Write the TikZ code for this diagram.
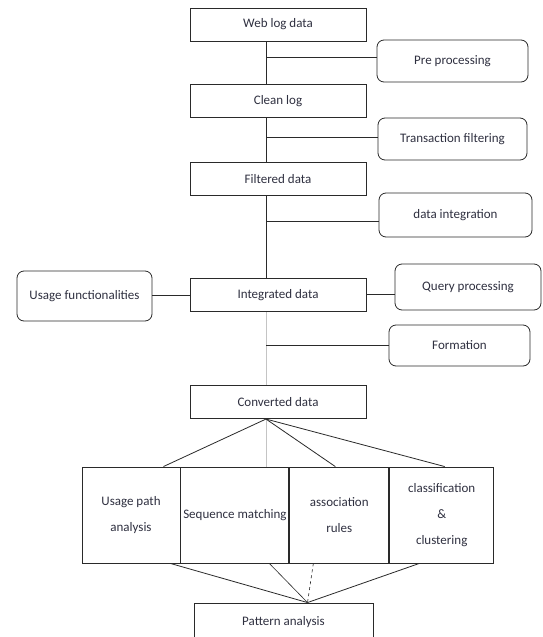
\documentclass[tikz,border=0pt]{standalone}
\usepackage{fontspec}
\setmainfont{Carlito}
\usetikzlibrary{positioning}
\definecolor{cLine}{HTML}{2A2A2A}
\definecolor{cText}{HTML}{2F3040}
\definecolor{cFaint}{HTML}{C4C4C4}

\begin{document}
\begin{tikzpicture}[x=1pt,y=-1pt,
    every node/.style={font=\fontsize{13}{26}\selectfont,text=cText,align=center,inner sep=0pt},
    databox/.style={draw=cLine,fill=white,line width=0.9pt,minimum width=176pt,minimum height=33pt},
    stepbox/.style={draw=cLine,fill=white,line width=0.8pt,rounded corners=7pt},
    cellbox/.style={draw=cLine,fill=white,line width=0.9pt,minimum height=96pt},
    link/.style={draw=cLine,line width=0.9pt}]
  \useasboundingbox[fill=white] (0,0) rectangle (543,637);
  \coordinate (spine) at (266,0);

  % main column
  \node[databox] (web) at (278,24.5) {Web log data};
  \node[databox,below=43pt of web] (clean) {Clean log};
  \node[databox,below=44pt of clean] (filt) {Filtered data};
  \node[databox,below=82pt of filt] (intd) {Integrated data};
  \node[databox,below=73pt of intd] (conv) {Converted data};

  % steps at the side
  \node[stepbox,minimum width=151pt,minimum height=42pt] (pre) at (452.5,61) {Pre processing};
  \node[stepbox,minimum width=149pt,minimum height=42pt] (trans) at (452.5,139) {Transaction filtering};
  \node[stepbox,minimum width=153pt,minimum height=44pt] (integ) at (455.5,215) {data integration};
  \node[stepbox,minimum width=146pt,minimum height=46pt] (query) at (468,287) {Query processing};
  \node[stepbox,minimum width=141pt,minimum height=41pt] (form) at (459.5,345.5) {Formation};
  \node[stepbox,minimum width=135pt,minimum height=50pt] (usage) at (84.5,296) {Usage functionalities};

  % mining methods
  \node[cellbox,minimum width=98pt] (c1) at (131,515) {Usage path\\analysis};
  \node[cellbox,minimum width=108pt,right=0pt of c1] (c2) {Sequence matching};
  \node[cellbox,minimum width=99pt,right=0pt of c2] (c3) {association\\rules};
  \node[cellbox,minimum width=104pt,right=0pt of c3] (c4) {classification\\\&\\clustering};
  \node[databox,minimum width=179pt,minimum height=38pt] (pat) at (283.5,622) {Pattern analysis};
  \coordinate (meet) at ([xshift=24pt]pat.north);

  % connectors
  \draw[cFaint,line width=0.7pt] (intd.south -| spine) -- (conv.north -| spine);
  \draw[cFaint,line width=0.7pt] (conv.south -| spine) -- (c2.north -| spine);
  \draw[link] (web.south -| spine) -- (clean.north -| spine);
  \draw[link] (clean.south -| spine) -- (filt.north -| spine);
  \draw[link] (filt.south -| spine) -- (intd.north -| spine);
  \draw[link] ([yshift=4pt]pre.west) -- ([yshift=4pt]pre.west -| spine);
  \draw[link] ([yshift=2pt]trans.west) -- ([yshift=2pt]trans.west -| spine);
  \draw[link] ([yshift=-6pt]integ.west) -- ([yshift=-6pt]integ.west -| spine);
  \draw[link] (form.west) -- (form.west -| spine);
  \draw[link] (intd.west) -- (intd.west -| usage.east);
  \draw[link,line width=1.4pt] ([yshift=1pt]intd.east) -- ([yshift=1pt]intd.east -| query.west);
  \draw[link,line width=0.8pt] (conv.south -| spine) -- ([xshift=-17pt]c1.north east);
  \draw[link,line width=0.8pt] (conv.south -| spine) -- ([xshift=-4pt]c3.north);
  \draw[link,line width=0.8pt] (conv.south -| spine) -- ([xshift=3pt]c4.north);
  \draw[link,line width=0.8pt] ([xshift=-10pt]c1.south east) -- (meet);
  \draw[link,line width=0.6pt] ([xshift=-20pt]c2.south east) -- (meet);
  \draw[link,line width=0.6pt,dashed] ([xshift=24pt]c3.south west) -- (meet);
  \draw[link,line width=0.8pt] ([xshift=30pt]c4.south west) -- (meet);
\end{tikzpicture}
\end{document}
